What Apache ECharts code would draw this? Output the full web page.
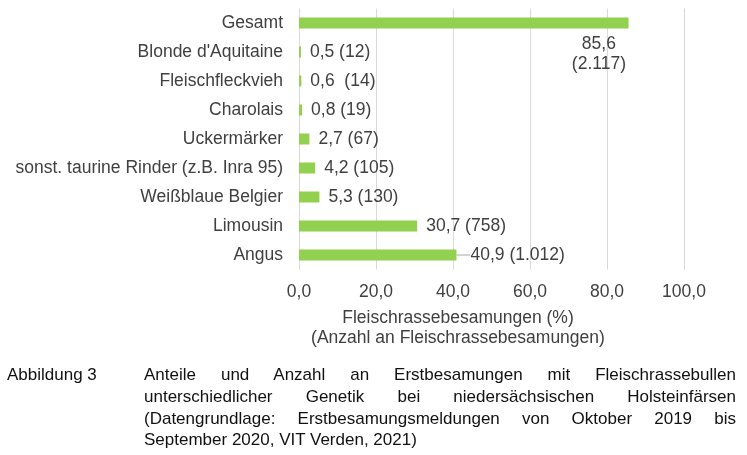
<!DOCTYPE html>
<html>
<head>
<meta charset="utf-8">
<script src="https://cdn.jsdelivr.net/npm/echarts@6/dist/echarts.min.js"></script>
<style>
    html, body { margin: 0; padding: 0; background: #fff; }
    #chart { position: absolute; left: 0; top: 0; width: 747px; height: 455px; }
    .cap { position: absolute; font-family: "Liberation Sans", Arial, sans-serif; font-size: 17px; line-height: 21.8px; color: #111; }
    #capLabel { left: 7px; top: 364px; }
    #capText { left: 144px; top: 364px; width: 592px; text-align: justify; }
</style>
</head>
<body>
<div id="chart"></div>
<div class="cap" id="capLabel">Abbildung 3</div>
<div class="cap" id="capText">Anteile und Anzahl an Erstbesamungen mit Fleischrassebullen unterschiedlicher Genetik bei niedersächsischen Holsteinfärsen (Datengrundlage: Erstbesamungsmeldungen von Oktober 2019 bis September 2020, VIT Verden, 2021)</div>
<script>
// Kategorien (von unten nach oben wie im Original)
var categories = ['Angus', 'Limousin', 'Weißblaue Belgier', 'sonst. taurine Rinder (z.B. Inra 95)', 'Uckermärker', 'Charolais', 'Fleischfleckvieh', "Blonde d'Aquitaine", 'Gesamt'];
// Anteil in %
var percentValues = [40.9, 30.7, 5.3, 4.2, 2.7, 0.8, 0.6, 0.5, 85.6];
// Anzahl Besamungen (Beschriftung)
var countLabels = ['(1.012)', '(758)', '(130)', '(105)', '(67)', '(19)', ' (14)', '(12)', '(2.117)'];
var xTicks = [0, 20, 40, 60, 80, 100];

var textColor = '#404040';
var font = '"Liberation Sans", Arial, sans-serif';

function fmt(v) {
    return v.toFixed(1).replace('.', ',');
}

var barData = percentValues.map(function (v, i) {
    var item = { value: v };
    if (categories[i] === 'Gesamt') {
        // Beschriftung unter dem Balkenende
        item.label = {
            position: ['91%', 17],
            align: 'center',
            verticalAlign: 'top',
            lineHeight: 20,
            formatter: fmt(v) + '\n' + countLabels[i]
        };
    }
    if (categories[i] === 'Angus') {
        item.labelLine = { show: true, lineStyle: { color: '#a6a6a6', width: 1 } };
    }
    return item;
});

var chart = echarts.init(document.getElementById('chart'));
var option = {
    animation: false,
    textStyle: { fontFamily: font },
    grid: { left: 299, right: 63, top: 8.5, bottom: 185.5, containLabel: false },
    xAxis: {
        type: 'value',
        min: 0,
        max: 100,
        interval: 20,
        axisLine: { show: false },
        axisTick: { show: false },
        splitLine: { lineStyle: { color: '#d9d9d9', width: 1 } },
        axisLabel: {
            margin: 14,
            color: textColor,
            fontSize: 17.5,
            fontFamily: font,
            formatter: function (v) { return xTicks.indexOf(v) >= 0 ? fmt(v) : ''; }
        }
    },
    yAxis: {
        type: 'category',
        data: categories,
        axisLine: { show: false },
        axisTick: { show: false },
        axisLabel: { margin: 16, color: textColor, fontSize: 17.5, fontFamily: font }
    },
    series: [{
        type: 'bar',
        data: barData,
        barWidth: 11,
        itemStyle: { color: '#92d050' },
        label: {
            show: true,
            position: 'right',
            distance: 9,
            color: textColor,
            fontSize: 17.5,
            fontFamily: font,
            formatter: function (p) {
                return fmt(p.value) + ' ' + countLabels[p.dataIndex];
            }
        },
        labelLayout: function (p) {
            if (categories[p.dataIndex] === 'Angus') {
                return { dx: 5 };
            }
            return {};
        }
    }],
    graphic: [
        {
            type: 'text',
            x: 458,
            y: 309,
            style: { text: 'Fleischrassebesamungen (%)', fill: textColor, font: '17.5px ' + font, textAlign: 'center' }
        },
        {
            type: 'text',
            x: 458,
            y: 329,
            style: { text: '(Anzahl an Fleischrassebesamungen)', fill: textColor, font: '17.5px ' + font, textAlign: 'center' }
        }
    ]
};
chart.setOption(option);
</script>
</body>
</html>
